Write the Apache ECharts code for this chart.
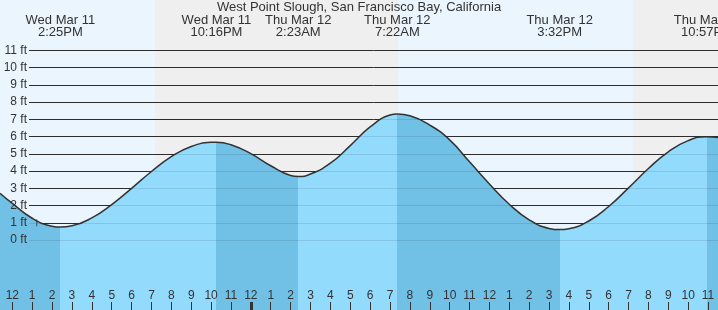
<!DOCTYPE html>
<html>
<head>
<meta charset="utf-8">
<script src="https://cdn.jsdelivr.net/npm/echarts@6/dist/echarts.min.js"></script>
<style>
html,body{margin:0;padding:0;background:#EBF5FE;}
#c{width:718px;height:310px;}
</style>
</head>
<body>
<div id="c"></div>
<script>
// ---- data (times are hours since Wed Mar 11 00:00) ----
const chartTitle = 'West Point Slough, San Francisco Bay, California';
const xMin = 11.38;
const xMax = 47.5;
const tideTimes = [11.38, 12, 13, 14, 14.417, 15, 16, 17, 18, 19, 20, 21, 22, 22.267, 23, 24, 25, 26, 26.383, 27, 28, 29, 30, 31, 31.367, 32, 33, 34, 35, 36, 37, 38, 39, 39.533, 40, 41, 42, 43, 44, 45, 46, 46.95, 47.5];
const tideFeet  = [2.71, 2.12, 1.26, 0.80, 0.75, 0.82, 1.28, 2.05, 2.99, 3.97, 4.83, 5.42, 5.66, 5.67, 5.52, 5.00, 4.30, 3.74, 3.68, 3.82, 4.45, 5.47, 6.55, 7.24, 7.30, 7.20, 6.66, 5.80, 4.53, 3.25, 2.07, 1.17, 0.67, 0.60, 0.65, 1.10, 1.94, 3.02, 4.14, 5.11, 5.76, 5.98, 5.94];
const eventTimes = [14.417, 22.267, 26.383, 31.367, 39.533, 46.95];
const eventDates = ['Wed Mar 11', 'Wed Mar 11', 'Thu Mar 12', 'Thu Mar 12', 'Thu Mar 12', 'Thu Mar 12'];
const eventClock = ['2:25PM', '10:16PM', '2:23AM', '7:22AM', '3:32PM', '10:57PM'];
const nightStart = [19.18, 43.22];
const nightEnd = [31.41, 47.5];
const hourTicks = [12, 13, 14, 15, 16, 17, 18, 19, 20, 21, 22, 23, 24, 25, 26, 27, 28, 29, 30, 31, 32, 33, 34, 35, 36, 37, 38, 39, 40, 41, 42, 43, 44, 45, 46, 47];
const hourLabels = ['12', '1', '2', '3', '4', '5', '6', '7', '8', '9', '10', '11', '12', '1', '2', '3', '4', '5', '6', '7', '8', '9', '10', '11', '12', '1', '2', '3', '4', '5', '6', '7', '8', '9', '10', '11'];
const midnightTicks = [24];
const feetMin = 0;
const feetMax = 11;
const nowMark = [13.23, 1.0];

// ---- styles ----
const FONT = '"Liberation Sans", Arial, sans-serif';
const TXT = '#333333';
const DAY = '#EBF5FE';
const NIGHT = '#EFEFEF';
const FLOOD = '#93DBFD';
const EBB = '#71C0E6';

function lookup(list, labels, v) {
  let best = 0, d = Infinity;
  list.forEach((x, i) => { const e = Math.abs(x - v); if (e < d) { d = e; best = i; } });
  return labels[best];
}

const bounds = [xMin].concat(eventTimes, [xMax]);
const pieces = [];
for (let i = 0; i < bounds.length - 1; i++) {
  const p = { gte: bounds[i], color: i % 2 === 0 ? EBB : FLOOD };
  if (i === bounds.length - 2) p.lte = bounds[i + 1]; else p.lt = bounds[i + 1];
  pieces.push(p);
}

const chart = echarts.init(document.getElementById('c'), null, { renderer: 'canvas' });
chart.setOption({
  animation: false,
  backgroundColor: DAY,
  title: {
    text: chartTitle, left: 'center', top: 1, padding: 0, z: 10,
    textStyle: { fontFamily: FONT, fontSize: 13, fontWeight: 'normal', color: TXT }
  },
  grid: [
    { left: 0, right: 0, top: 0, bottom: 0, containLabel: false, outerBoundsMode: 'none' },
    { left: 29, right: 0, top: 50.25, bottom: 70, containLabel: false, outerBoundsMode: 'none' }
  ],
  xAxis: [
    {
      gridIndex: 0, type: 'value', min: xMin, max: xMax, position: 'bottom', z: 5,
      axisLine: { show: false, onZero: false }, splitLine: { show: false },
      axisTick: { show: true, inside: true, length: 8, customValues: hourTicks, lineStyle: { color: TXT, width: 1 } },
      axisLabel: { inside: true, margin: 8, customValues: hourTicks, fontSize: 12, color: TXT, fontFamily: FONT,
        formatter: v => lookup(hourTicks, hourLabels, v) }
    },
    {
      gridIndex: 0, type: 'value', min: xMin, max: xMax, position: 'bottom', z: 5,
      axisLine: { show: false, onZero: false }, splitLine: { show: false },
      axisTick: { show: true, inside: true, length: 8, customValues: midnightTicks, lineStyle: { color: TXT, width: 3 } },
      axisLabel: { show: false }
    },
    {
      gridIndex: 0, type: 'value', min: xMin, max: xMax, position: 'top', z: 5,
      axisLine: { show: false, onZero: false }, splitLine: { show: false }, axisTick: { show: false },
      axisLabel: { inside: true, margin: 14, customValues: eventTimes, fontSize: 13, lineHeight: 12, color: TXT, fontFamily: FONT,
        formatter: v => lookup(eventTimes, eventDates, v) + '\n' + lookup(eventTimes, eventClock, v) }
    },
    { gridIndex: 1, type: 'value', min: 0, max: 1, show: false }
  ],
  yAxis: [
    { gridIndex: 0, type: 'value', min: -4.06, max: 13.91, show: false },
    {
      gridIndex: 1, type: 'value', min: feetMin, max: feetMax, interval: 1, position: 'left', z: 2,
      axisLine: { show: false }, axisTick: { show: false }, axisLabel: { show: false },
      splitLine: { show: true, lineStyle: { color: '#333333', width: 1 } }
    },
    {
      gridIndex: 1, type: 'value', min: feetMin, max: feetMax, interval: 1, position: 'left', z: 4,
      axisLine: { show: false }, axisTick: { show: false },
      axisLabel: { margin: 2, fontSize: 12, color: TXT, fontFamily: FONT, formatter: v => v + ' ft' },
      splitLine: { show: true, lineStyle: { color: 'rgba(0,0,0,0.1)', width: 1 } }
    }
  ],
  visualMap: { type: 'piecewise', show: false, dimension: 0, seriesIndex: 1, pieces: pieces },
  series: [
    {
      type: 'line', xAxisIndex: 0, yAxisIndex: 0, data: [], z: 0, silent: true,
      markArea: { silent: true, itemStyle: { color: NIGHT, opacity: 1 },
        data: nightStart.map((s, i) => [{ xAxis: s }, { xAxis: nightEnd[i] }]) }
    },
    {
      type: 'line', xAxisIndex: 0, yAxisIndex: 0, z: 3, silent: true,
      data: tideTimes.map((t, i) => [t, tideFeet[i]]),
      smooth: 0.5, showSymbol: false,
      lineStyle: { color: '#333333', width: 1.5 },
      areaStyle: { opacity: 1, origin: 'start' }
    },
    {
      type: 'scatter', xAxisIndex: 0, yAxisIndex: 0, z: 6, silent: true,
      data: [nowMark], symbol: 'rect', symbolSize: [1, 7], itemStyle: { color: '#333333' }
    }
  ]
});
</script>
</body>
</html>
